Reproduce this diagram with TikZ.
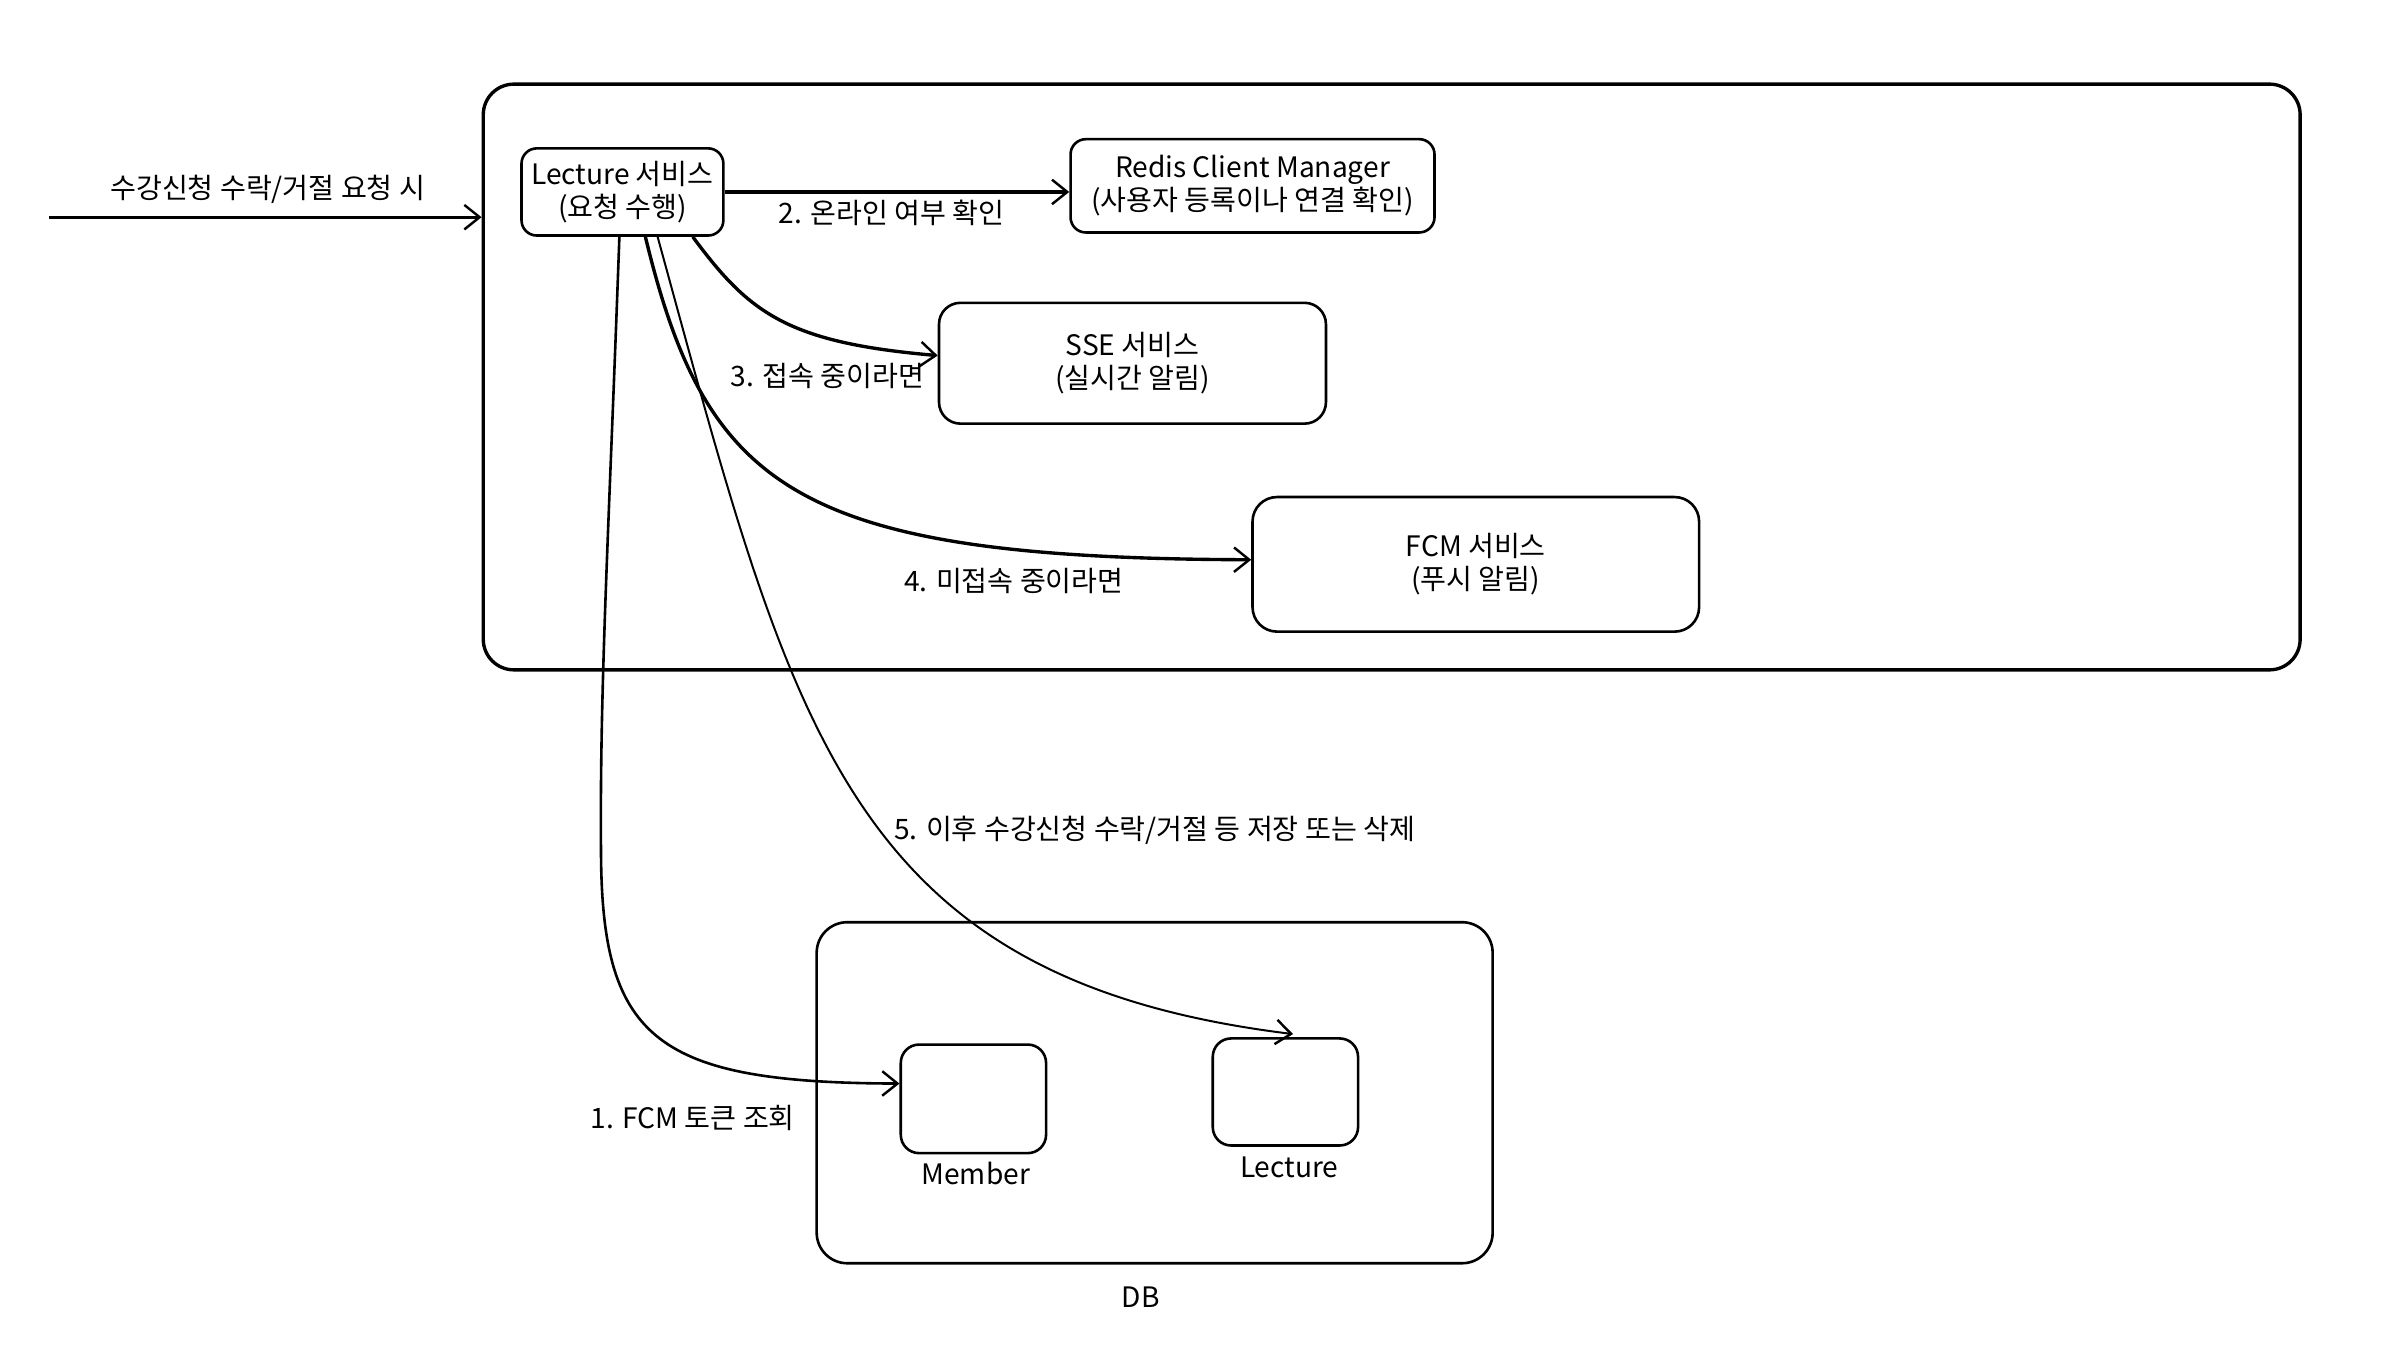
\documentclass[tikz,border=0pt]{standalone}
\usepackage{fontspec}
\setmainfont{Noto Sans CJK KR}
\usetikzlibrary{arrows.meta}
\begin{document}
\begin{tikzpicture}[x=1pt,y=-1pt,
  txt/.style={font=\fontsize{18.4}{21.5}\selectfont, align=center, inner sep=0pt},
  box/.style={draw, line width=1.7pt, rounded corners=#1, inner sep=0pt, txt},
  arr/.style={-{Straight Barb[length=10pt,width=16pt,line width=1.6pt]}, line width=#1},
  arr/.default=2pt]
\useasboundingbox (0,0) rectangle (1568,892.6);
% containers
\node[box=20pt, minimum width=1188pt, minimum height=383pt, line width=2.2pt] (outer) at (910,246.5) {};
\node[box=20pt, minimum width=442pt, minimum height=223pt] (db) at (755,714.5) {};
% service boxes
\node[box=10pt, minimum width=132pt, minimum height=57pt] (lec) at (407,125.5) {Lecture 서비스\\(요청 수행)};
\node[box=10pt, minimum width=238pt, minimum height=61pt] (redis) at (819,121.5) {Redis Client Manager\\(사용자 등록이나 연결 확인)};
\node[box=14pt, minimum width=253pt, minimum height=79pt] (sse) at (740.5,237.5) {SSE 서비스\\(실시간 알림)};
\node[box=16pt, minimum width=292pt, minimum height=88pt] (fcm) at (965,369) {FCM 서비스\\(푸시 알림)};
% db tables
\node[box=12pt, minimum width=95pt, minimum height=71pt] (member) at (636.5,718.5) {};
\node[box=12pt, minimum width=95pt, minimum height=70pt] (lecdb) at (840.5,714) {};
\node[txt] (memberlbl) at (638,767) {Member};
\node[txt] (lecdblbl) at (843,763) {Lecture};
\node[txt] (dblbl) at (746,848) {DB};
% incoming
\coordinate (src) at (32,142);
\draw[arr] (src) -- (src -| outer.west);
\node[txt] (l0) at (175,124) {수강신청 수락/거절 요청 시};
% 2
\draw[arr=2.4pt] (lec.east) -- (redis.west |- lec.east);
\node[txt] (l2) at (583,139) {2. 온라인 여부 확인};
% 3
\draw[arr=2.2pt] ([xshift=46pt]lec.south) .. controls (490,205) and (515,224) .. ([yshift=5pt]sse.west);
\node[txt] (l3) at (541,246) {3. 접속 중이라면};
% 4
\draw[arr=2.2pt] ([xshift=15pt]lec.south) .. controls (462,320) and (520,365) .. ([yshift=3pt]fcm.west);
\node[txt] (l4) at (663,380) {4. 미접속 중이라면};
% 5
\draw[arr=1.3pt] ([xshift=23pt]lec.south) .. controls (518,475) and (552,640) .. ([xshift=5pt,yshift=2pt]lecdb.north);
\node[txt] (l5) at (755,543) {5. 이후 수강신청 수락/거절 등 저장 또는 삭제};
% 1
\draw[arr=1.7pt] ([xshift=-2pt]lec.south) .. controls (398,350) and (392,450) .. (393,560) .. controls (394,680) and (430,708) .. ([yshift=10pt]member.west);
\node[txt] (l1) at (453,731) {1. FCM 토큰 조회};
\end{tikzpicture}
\end{document}
